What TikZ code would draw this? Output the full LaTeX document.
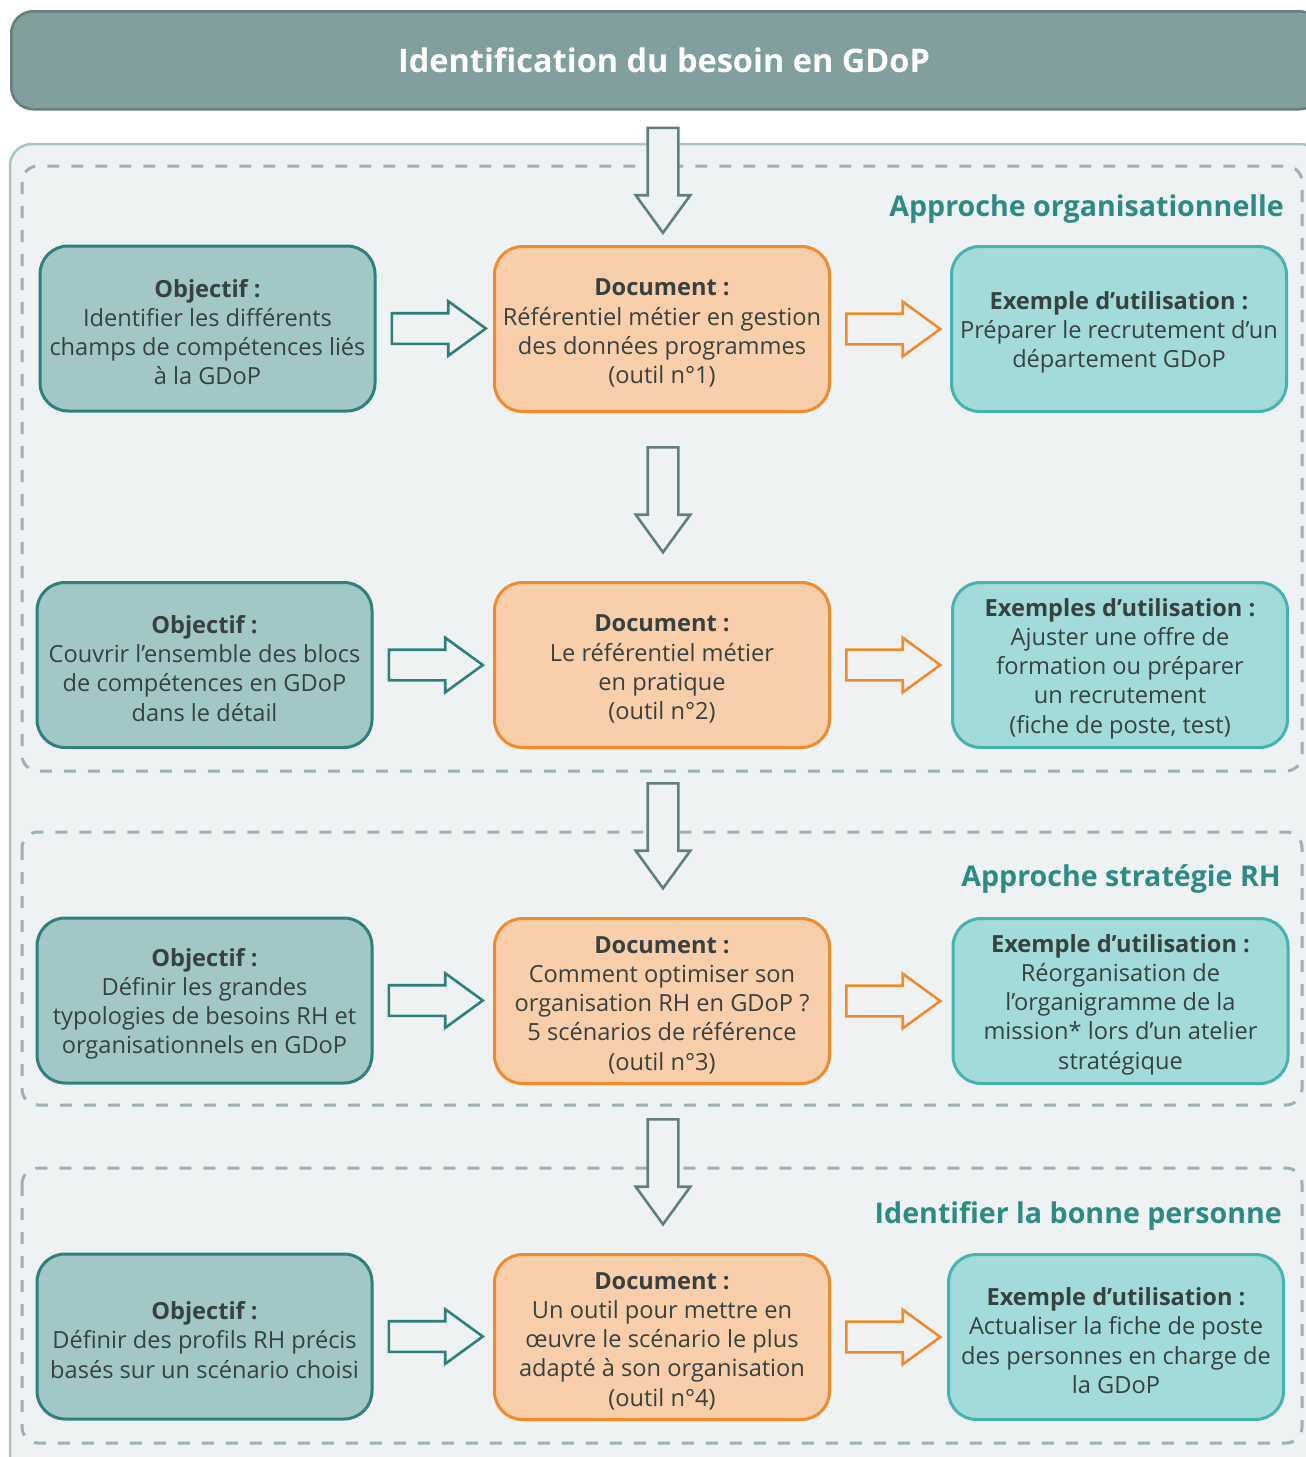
\documentclass[tikz,border=0pt]{standalone}
\usepackage{fontspec}
\setmainfont{Open Sans}
\usetikzlibrary{shapes.arrows,calc}
\definecolor{hdrfill}{HTML}{809F9E}
\definecolor{hdrline}{HTML}{647F7D}
\definecolor{outfill}{HTML}{EEF2F3}
\definecolor{outline}{HTML}{ABC4C2}
\definecolor{dashc}{HTML}{9DB1AF}
\definecolor{secc}{HTML}{2E8A85}
\definecolor{objfill}{HTML}{A1C8C7}
\definecolor{objline}{HTML}{2F807D}
\definecolor{docfill}{HTML}{F8CFAA}
\definecolor{docline}{HTML}{EF8A2D}
\definecolor{exfill}{HTML}{A3DBDB}
\definecolor{exline}{HTML}{45B3AE}
\definecolor{grarrow}{HTML}{5F807E}
\definecolor{txt}{HTML}{374140}
\newcommand{\boxhead}[1]{\rule{0pt}{25pt}\textbf{#1}}
\tikzset{
  box/.style={rounded corners=28pt, line width=3pt, minimum width=335pt, minimum height=165pt,
    align=center, text=txt, font=\fontsize{23.6}{29.2}\selectfont, inner sep=0pt},
  objbox/.style={box, fill=objfill, draw=objline},
  docbox/.style={box, fill=docfill, draw=docline},
  exbox/.style={box, fill=exfill, draw=exline},
  dashbox/.style={draw=dashc, line width=3pt, dash pattern=on 12pt off 12pt, rounded corners=16pt},
  sectitle/.style={anchor=east, text=secc, font=\fontsize{28.6}{32}\selectfont\bfseries, inner sep=0pt},
  blockarrow/.style={single arrow, line width=2.6pt, fill=outfill, inner xsep=0pt, inner ysep=14pt,
    single arrow head extend=12pt, single arrow tip angle=72, minimum height=94pt, anchor=tail},
  tealarrow/.style={blockarrow, draw=objline},
  orarrow/.style={blockarrow, draw=docline},
  downarrow/.style={blockarrow, draw=grarrow, rotate=-90, minimum height=105pt},
}
\begin{document}
\begin{tikzpicture}[x=1pt,y=-1pt]
\useasboundingbox (0,0) rectangle (1306,1457);
\clip (0,0) rectangle (1306,1457);
% header
\node[draw=hdrline, fill=hdrfill, line width=2.5pt, rounded corners=22pt,
  minimum width=1310pt, minimum height=98pt, anchor=north west, inner sep=0pt] (hdr) at (10,10) {};
\node[text=white, font=\fontsize{32.5}{36}\selectfont\bfseries, inner sep=0pt] (hdrtxt) at (664,60) {Identification du besoin en GDoP};
% outer panel
\draw[draw=outline, fill=outfill, line width=2.5pt, rounded corners=22pt] (10,144) rectangle (1322,1480);
% dashed sections
\draw[dashbox] (22,166) rectangle (1302,771);
\draw[dashbox] (22,832) rectangle (1302,1105);
\draw[dashbox] (22,1168) rectangle (1302,1443);
% section titles
\node[sectitle] (s1) at (1284,209) {Approche organisationnelle};
\node[sectitle] (s2) at (1281,879) {Approche stratégie RH};
\node[sectitle] (s3) at (1282,1216) {Identifier la bonne personne};
% row 1
\node[objbox] (o1) at (207.5,328.5) {\boxhead{Objectif :}\\Identifier les différents\\champs de compétences liés\\à la GDoP};
\node[docbox] (d1) at (662,329) {\boxhead{Document :}\\Référentiel métier en gestion\\des données programmes\\(outil n°1)};
\node[exbox] (e1) at (1119,329) {\boxhead{Exemple d’utilisation :}\\Préparer le recrutement d’un\\département GDoP};
% row 2
\node[objbox] (o2) at (204.5,665) {\boxhead{Objectif :}\\Couvrir l’ensemble des blocs\\de compétences en GDoP\\dans le détail};
\node[docbox] (d2) at (662,665) {\boxhead{Document :}\\Le référentiel métier\\en pratique\\(outil n°2)};
\node[exbox] (e2) at (1120,665) {\boxhead{Exemples d’utilisation :}\\Ajuster une offre de\\formation ou préparer\\un recrutement\\(fiche de poste, test)};
% row 3
\node[objbox] (o3) at (204.5,1000.5) {\boxhead{Objectif :}\\Définir les grandes\\typologies de besoins RH et\\organisationnels en GDoP};
\node[docbox] (d3) at (662,1001) {\boxhead{Document :}\\Comment optimiser son\\organisation RH en GDoP ?\\5 scénarios de référence\\(outil n°3)};
\node[exbox] (e3) at (1120.5,1001) {\boxhead{Exemple d’utilisation :}\\Réorganisation de\\l’organigramme de la\\mission* lors d’un atelier\\stratégique};
% row 4
\node[objbox] (o4) at (204.5,1336.5) {\boxhead{Objectif :}\\Définir des profils RH précis\\basés sur un scénario choisi};
\node[docbox] (d4) at (662,1337) {\boxhead{Document :}\\Un outil pour mettre en\\œuvre le scénario le plus\\adapté à son organisation\\(outil n°4)};
\node[exbox] (e4) at (1116,1337) {\boxhead{Exemple d’utilisation :}\\Actualiser la fiche de poste\\des personnes en charge de\\la GDoP};
% horizontal arrows
\foreach \r in {1,2,3,4}{
  \node[tealarrow] (ta\r) at ($(o\r.east)+(14,0)$) {};
  \node[orarrow] (oa\r) at ($(d\r.east)+(14,0)$) {};
}
% vertical arrows
\node[downarrow] (va0) at ($(hdr.south -| d1.north)+(1,16)$) {};
\node[downarrow] (va1) at ($(d1.south)+(1,33)$) {};
\node[downarrow] (va2) at ($(d2.south)+(1,33)$) {};
\node[downarrow] (va3) at ($(d3.south)+(1,33)$) {};
\end{tikzpicture}
\end{document}
